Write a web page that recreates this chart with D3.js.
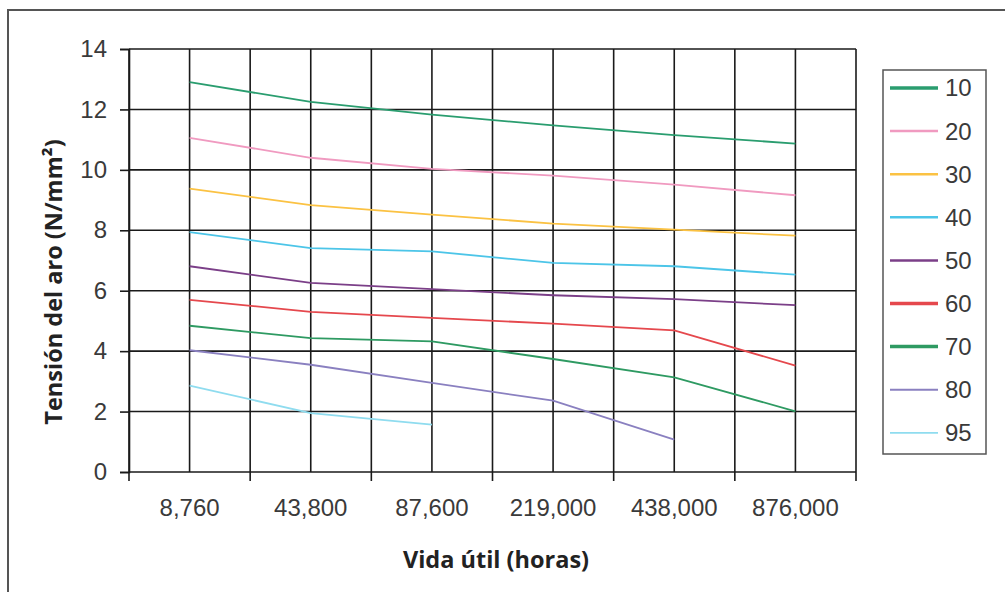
<!DOCTYPE html>
<html>
<head>
<meta charset="utf-8">
<script src="https://cdn.jsdelivr.net/npm/d3@7"></script>
<style>
  html, body { margin: 0; padding: 0; background: #fff; }
  svg { display: block; }
</style>
</head>
<body>
<svg id="chart" width="1005" height="592"></svg>
<script>
// ---- Data ----
const categories = ["8,760", "43,800", "87,600", "219,000", "438,000", "876,000"];
const seriesNames = ["10", "20", "30", "40", "50", "60", "70", "80", "95"];
const s10 = [12.90, 12.25, 11.83, 11.47, 11.15, 10.87];
const s20 = [11.06, 10.40, 10.03, 9.81, 9.51, 9.16];
const s30 = [9.38, 8.83, 8.52, 8.22, 8.02, 7.82];
const s40 = [7.94, 7.41, 7.30, 6.92, 6.81, 6.53];
const s50 = [6.81, 6.26, 6.05, 5.85, 5.72, 5.52];
const s60 = [5.70, 5.30, 5.10, 4.91, 4.69, 3.52];
const s70 = [4.84, 4.43, 4.32, 3.74, 3.13, 2.01];
const s80 = [4.03, 3.55, 2.95, 2.36, 1.07, null];
const s95 = [2.86, 1.95, 1.57, null, null, null];
const yTicks = [0, 2, 4, 6, 8, 10, 12, 14];
const seriesColors = ["#2a9d6f", "#f09ac0", "#fbc243", "#4cc5e8", "#7b3f88", "#e5484d", "#2e9a62", "#8a80c0", "#8fdcef"];
const xTitle = "Vida útil (horas)";
const yTitle = "Tensión del aro (N/mm²)";

const seriesValues = [s10, s20, s30, s40, s50, s60, s70, s80, s95];

// ---- Layout ----
const svg = d3.select("#chart");
const pLeft = 129, pRight = 856, pTop = 49, pBottom = 472;

const x = d3.scaleBand().domain(categories).range([pLeft, pRight]).paddingInner(0).paddingOuter(0);
const y = d3.scaleLinear().domain([0, 14]).range([pBottom, pTop]);
const bw = x.bandwidth();

// outer frame (left and top edges visible)
svg.append("path")
  .attr("d", "M8,600 L8,10 L1010,10")
  .attr("fill", "none").attr("stroke", "#555").attr("stroke-width", 2);

// gridlines
const grid = svg.append("g");
const vPositions = [];
categories.forEach(c => { vPositions.push(x(c)); vPositions.push(x(c) + bw / 2); });
vPositions.push(pRight);
grid.selectAll("line.v").data(vPositions).enter().append("line")
  .attr("x1", d => d).attr("x2", d => d)
  .attr("y1", pTop).attr("y2", pBottom)
  .attr("stroke", "#1a1a1a").attr("stroke-width", 1.6);
grid.selectAll("line.h").data(yTicks.filter(t => t > 0)).enter().append("line")
  .attr("x1", pLeft).attr("x2", pRight)
  .attr("y1", d => y(d)).attr("y2", d => y(d))
  .attr("stroke", "#1a1a1a").attr("stroke-width", 1.6);

// y axis
const yAxis = svg.append("g").attr("transform", `translate(${pLeft},0)`)
  .call(d3.axisLeft(y).tickValues(yTicks).tickSize(9).tickPadding(13).tickFormat(d3.format("d")));
yAxis.select(".domain").attr("stroke", "#1a1a1a").attr("stroke-width", 1.6);
yAxis.selectAll(".tick line").attr("stroke", "#1a1a1a").attr("stroke-width", 1.6);
yAxis.selectAll(".tick text")
  .attr("font-family", "'Liberation Sans', Arial, sans-serif")
  .attr("font-size", 24).attr("fill", "#3a3a3a");

// x axis
const xAxis = svg.append("g").attr("transform", `translate(0,${pBottom})`)
  .call(d3.axisBottom(x).tickSize(0).tickPadding(27));
xAxis.select(".domain").remove();
xAxis.selectAll(".tick text")
  .attr("font-family", "'Liberation Sans', Arial, sans-serif")
  .attr("font-size", 24).attr("fill", "#3a3a3a");
// tick marks at band edges
const edges = categories.map(c => x(c)).concat([pRight]);
svg.append("g").selectAll("line").data(edges).enter().append("line")
  .attr("x1", d => d).attr("x2", d => d)
  .attr("y1", pBottom).attr("y2", pBottom + 9)
  .attr("stroke", "#1a1a1a").attr("stroke-width", 1.6);
svg.append("line")
  .attr("x1", pLeft).attr("x2", pRight).attr("y1", pBottom).attr("y2", pBottom)
  .attr("stroke", "#1a1a1a").attr("stroke-width", 1.6);

// series lines
const line = d3.line()
  .defined(d => d.v !== null)
  .x(d => x(d.c) + bw / 2)
  .y(d => y(d.v));
seriesValues.forEach((vals, i) => {
  const pts = categories.map((c, j) => ({ c: c, v: vals[j] }));
  svg.append("path")
    .datum(pts)
    .attr("d", line)
    .attr("fill", "none")
    .attr("stroke", seriesColors[i])
    .attr("stroke-width", 1.8);
});

// axis titles
svg.append("text")
  .attr("x", 496).attr("y", 568)
  .attr("text-anchor", "middle")
  .attr("font-family", "'Open Sans', sans-serif")
  .attr("font-weight", 700)
  .attr("font-size", 23.5)
  .attr("fill", "#222")
  .text(xTitle);
svg.append("text")
  .attr("transform", "translate(62,282) rotate(-90)")
  .attr("text-anchor", "middle")
  .attr("font-family", "'Open Sans', sans-serif")
  .attr("font-weight", 700)
  .attr("font-size", 23.5)
  .attr("fill", "#222")
  .text(yTitle);

// legend
const lg = svg.append("g");
lg.append("rect")
  .attr("x", 883).attr("y", 70).attr("width", 103).attr("height", 384)
  .attr("fill", "#fff").attr("stroke", "#555").attr("stroke-width", 1.5);
const legendWidths = [3.5, 2.5, 2.5, 2.5, 2.5, 3.5, 3.5, 2, 1.8];
seriesNames.forEach((name, i) => {
  const cy = 88 + i * 43.1;
  lg.append("line")
    .attr("x1", 890).attr("x2", 938).attr("y1", cy).attr("y2", cy)
    .attr("stroke", seriesColors[i]).attr("stroke-width", legendWidths[i]);
  lg.append("text")
    .attr("x", 945).attr("y", cy)
    .attr("dy", "0.35em")
    .attr("font-family", "'Liberation Sans', Arial, sans-serif")
    .attr("font-size", 24).attr("fill", "#3a3a3a")
    .text(name);
});
</script>
</body>
</html>
